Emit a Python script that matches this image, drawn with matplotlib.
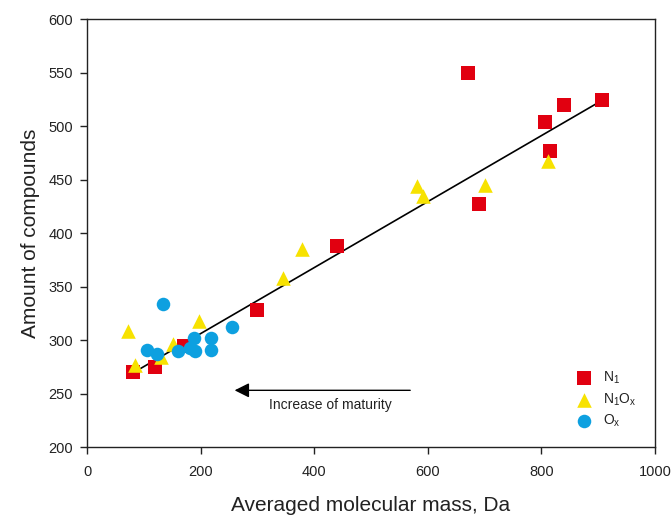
import matplotlib
matplotlib.use("Agg")
import matplotlib.pyplot as plt
import numpy as np

plt.rcParams['font.family'] = ['Liberation Sans', 'DejaVu Sans']
plt.rcParams['mathtext.fontset'] = 'custom'
plt.rcParams['mathtext.rm'] = 'Liberation Sans'

# N1 (red squares)
n1_x = [81, 120, 170, 300, 440, 671, 690, 806, 815, 840, 907]
n1_y = [270, 275, 294, 328, 388, 550, 427, 504, 477, 520, 524]

# N1Ox (yellow triangles)
n1ox_x = [73, 85, 131, 151, 198, 345, 378, 581, 591, 701, 811]
n1ox_y = [308, 277, 284, 296, 318, 358, 385, 444, 435, 445, 467]

# Ox (blue circles)
ox_x = [106, 123, 134, 161, 181, 189, 190, 218, 218, 256]
ox_y = [291, 287, 334, 290, 293, 302, 290, 302, 291, 312]

# trend line
trend_x = [93, 907]
trend_y = [273, 524]

# arrow annotation
arrow_start = (574, 253)
arrow_end = (255, 253)
arrow_text = "Increase of maturity"
text_pos = (428, 239)

xticks = [0, 200, 400, 600, 800, 1000]
yticks = [200, 250, 300, 350, 400, 450, 500, 550, 600]

fig = plt.figure(figsize=(6.71, 5.15), dpi=100)
ax = fig.add_axes([0.1297, 0.132, 0.8463, 0.831])

ax.plot(trend_x, trend_y, color='black', lw=1.2, zorder=3)
ax.scatter(n1_x, n1_y, marker='s', s=95, color='#E10010', linewidths=0, label=r'N$_\mathregular{1}$', zorder=4)
ax.scatter(n1ox_x, n1ox_y, marker='^', s=110, color='#F7E200', linewidths=0, label=r'N$_\mathregular{1}$O$_\mathregular{x}$', zorder=4)
ax.scatter(ox_x, ox_y, marker='o', s=95, color='#0DA0E0', linewidths=0, label=r'O$_\mathregular{x}$', zorder=5)

ax.annotate('', xy=arrow_end, xytext=arrow_start,
            arrowprops=dict(arrowstyle='-|>', color='black', lw=1.0, mutation_scale=22))
ax.text(text_pos[0], text_pos[1], arrow_text, ha='center', va='center', fontsize=10, color='#222222')

ax.set_xlim(0, 1000)
ax.set_ylim(200, 600)
ax.set_xticks(xticks)
ax.set_yticks(yticks)
ax.tick_params(direction='out', length=5, width=1, labelsize=10.5, colors='#222222', pad=5)
ax.tick_params(axis='x', pad=8)
for s in ax.spines.values():
    s.set_linewidth(1.0)
    s.set_color('#222222')

ax.set_xlabel('Averaged molecular mass, Da', fontsize=15, labelpad=12, color='#222222')
ax.set_ylabel('Amount of compounds', fontsize=15, labelpad=6, color='#222222')

leg = ax.legend(loc='lower right', frameon=False, fontsize=10, handletextpad=0.4,
                borderaxespad=0.9, labelspacing=0.35, markerscale=1.0)
for t in leg.get_texts():
    t.set_color('#222222')

fig.savefig('out.png', dpi=100)
